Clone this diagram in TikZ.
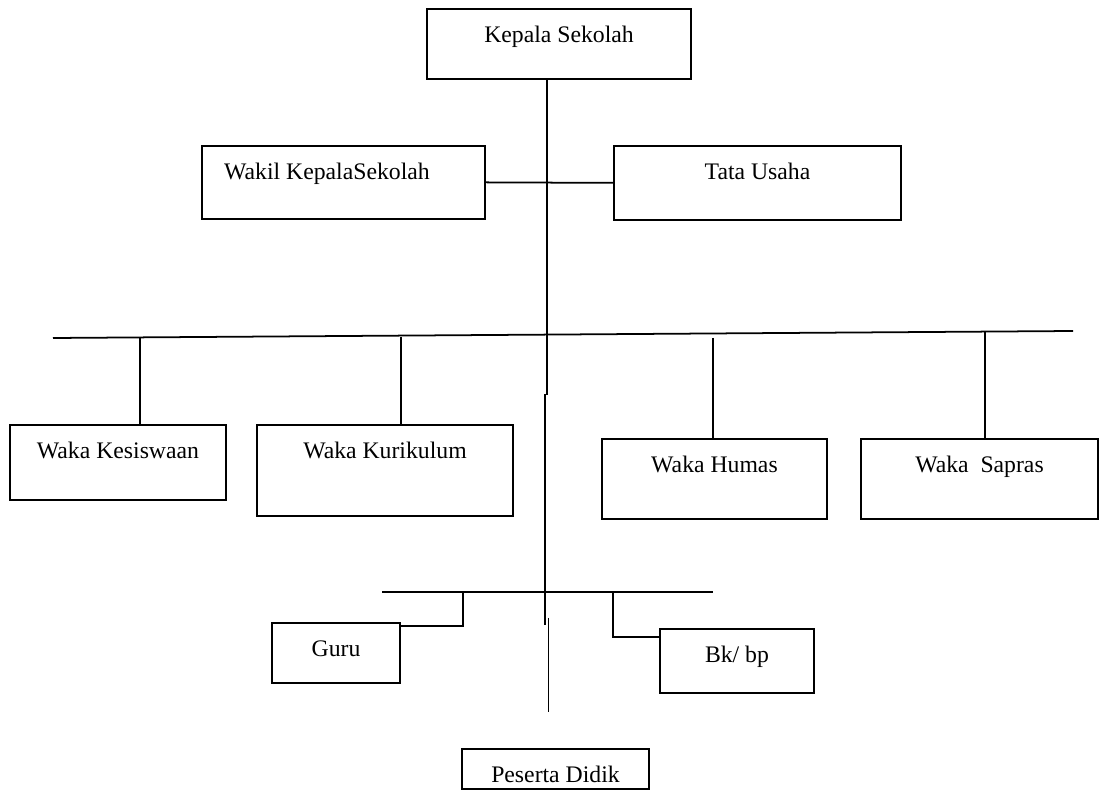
\documentclass[tikz,border=0pt]{standalone}
\usepackage{fontspec}
\setmainfont{Liberation Serif}
\usepackage{tikz}

\begin{document}
\begin{tikzpicture}[
  x=0.02cm, y=-0.02cm,
  box/.style={draw, line width=1pt, inner sep=0pt, anchor=north, text height=0.68cm, font=\fontsize{13.5}{16}\selectfont},
  link/.style={line width=1pt}
]
\useasboundingbox (0,0) rectangle (1100,790);
\node[box, minimum width=5.28cm, text depth=0.72cm] (kepala) at (559,8) {Kepala Sekolah};
\node[box, minimum width=5.66cm, text depth=0.78cm] (wakil) at (343.5,145) {Wakil KepalaSekolah\kern0.66cm};
\node[box, minimum width=5.74cm, text depth=0.80cm] (tata) at (757.5,145) {Tata Usaha};
\node[box, minimum width=4.32cm, text depth=0.82cm] (kesiswaan) at (118,424) {Waka Kesiswaan};
\node[box, minimum width=5.12cm, text depth=1.14cm] (kurikulum) at (385,424) {Waka Kurikulum};
\node[box, minimum width=4.50cm, text depth=0.92cm] (humas) at (714.5,438) {Waka Humas};
\node[box, minimum width=4.74cm, text depth=0.92cm] (sapras) at (979.5,438) {Waka \ Sapras};
\node[box, minimum width=2.56cm, text depth=0.52cm] (guru) at (336,622) {Guru};
\node[box, minimum width=3.08cm, text depth=0.60cm] (bk) at (737,628) {Bk/ bp};
\node[box, minimum width=3.74cm, text depth=0.12cm] (peserta) at (555.5,748) {Peserta Didik};

\coordinate (s1) at (547,395);
\coordinate (s2) at (545,394);
\coordinate (s3) at (545,625);
\coordinate (s4) at (548.5,618);
\coordinate (s5) at (548.5,712);
\draw[link] (s1 |- kepala.south) -- (s1);
\draw[link] (s2) -- (s3);
\draw[link] (s4) -- (s5);
\draw[link] (wakil.east) -- (tata.west);

\coordinate (busL) at (53,338);
\coordinate (busR) at (1073,331);
\draw[link] (busL) -- (busR);
\foreach \x/\n/\y in {140/kesiswaan/338, 401/kurikulum/337, 713/humas/338, 985/sapras/332}
  \draw[link] (\x,\y) -- (\x,\y |- \n.north);

\coordinate (lowL) at (382,592);
\coordinate (lowR) at (713,592);
\draw[link] (lowL) -- (lowR);
\draw[link] (463,592) |- ([yshift=-0.08cm]guru.north east);
\draw[link] (613,592) |- ([yshift=-0.18cm]bk.north west);
\end{tikzpicture}
\end{document}
